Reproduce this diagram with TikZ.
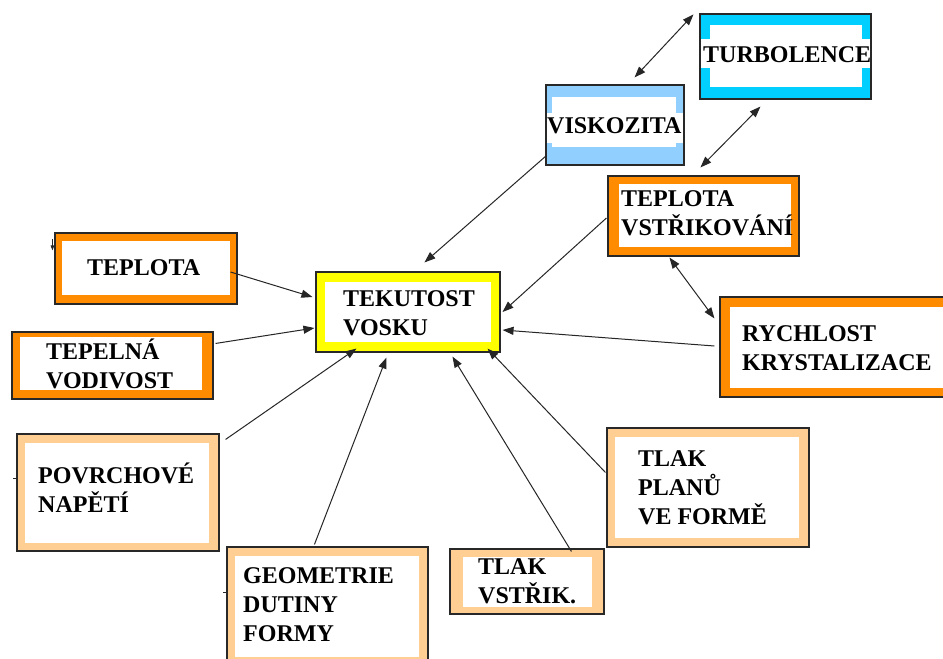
\documentclass[tikz,border=0pt]{standalone}
\usepackage{fontspec}
\setmainfont{Liberation Serif}
\usetikzlibrary{arrows.meta,calc}
\definecolor{cOrange}{RGB}{255,140,0}
\definecolor{cLight}{RGB}{255,206,146}
\definecolor{cBlue}{RGB}{145,207,255}
\definecolor{cCyan}{RGB}{0,207,255}
\definecolor{cYellow}{RGB}{255,255,0}
\definecolor{cEdge}{RGB}{40,40,40}
\begin{document}
\begin{tikzpicture}[x=1pt,y=-1pt,
  box/.style={draw=cEdge, line width=1.1pt, rectangle, inner sep=0pt},
  lbl/.style={font=\fontsize{24}{29}\selectfont\bfseries, anchor=base west, inner sep=0pt, align=left},
  con/.style={draw=black!85, line width=1pt, -{Triangle[length=11pt,width=8pt]}},
  dcon/.style={draw=black!85, line width=1pt, {Triangle[length=11pt,width=8pt]}-{Triangle[length=11pt,width=8pt]}},
  tick/.style={draw=black!85, line width=1pt}
]
\useasboundingbox (0,0) rectangle (943,659);
\fill[white] (0,0) rectangle (943,659);

% TURBOLENCE
\node[box, fill=cCyan, minimum width=171pt, minimum height=85pt] (turb) at (785.5,56.5) {};
\fill[white] (710,25) rectangle (862,87);
\fill[white] (701,39) rectangle (870,68);
\node[lbl] (turbt) at (703,62) {TURBOLENCE};

% VISKOZITA
\node[box, fill=cBlue, minimum width=138pt, minimum height=80pt] (visk) at (615,125) {};
\fill[white] (552,97) rectangle (676,147);
\fill[white] (547,113) rectangle (683,143);
\node[lbl] (viskt) at (547,133) {VISKOZITA};

% TEPLOTA VSTRIKOVANI
\node[box, fill=cOrange, minimum width=191pt, minimum height=80pt] (tvst) at (703.5,216) {};
\fill[white] (619,184) rectangle (791,247);
\node[lbl] (tvstt) at (621,235) {TEPLOTA\\VSTŘIKOVÁNÍ};

% TEKUTOST VOSKU
\node[box, fill=cYellow, minimum width=184pt, minimum height=80pt] (tek) at (408,312) {};
\fill[white] (325,282) rectangle (491,342);
\node[lbl] (tekt) at (343,335) {TEKUTOST\\VOSKU};

% TEPLOTA
\node[box, fill=cOrange, minimum width=182pt, minimum height=71pt] (tepl) at (146,268.5) {};
\fill[white] (62,241) rectangle (230,295);
\node[lbl] (teplt) at (87,275) {TEPLOTA};

% TEPELNA VODIVOST
\node[box, fill=cOrange, minimum width=201pt, minimum height=67pt] (tepel) at (112.5,365.5) {};
\fill[white] (20,337) rectangle (202,390);
\node[lbl] (tepelt) at (46,388) {TEPELNÁ\\VODIVOST};

% RYCHLOST KRYSTALIZACE
\node[box, fill=cOrange, minimum width=230pt, minimum height=100pt] (rych) at (835,347) {};
\fill[white] (730,307) rectangle (950,388);
\node[lbl] (rycht) at (742,370) {RYCHLOST\\KRYSTALIZACE};

% TLAK PLANU VE FORME
\node[box, fill=cLight, minimum width=202pt, minimum height=119pt] (tlakpl) at (708,487.5) {};
\fill[white] (615,437) rectangle (799,538);
\node[lbl] (tlakplt) at (638,524) {TLAK\\PLANŮ\\VE FORMĚ};

% POVRCHOVE NAPETI
\node[box, fill=cLight, minimum width=202pt, minimum height=117pt] (povr) at (118,492.5) {};
\fill[white] (25,443) rectangle (209,543);
\node[lbl] (povrt) at (38,512) {POVRCHOVÉ\\NAPĚTÍ};

% GEOMETRIE DUTINY FORMY
\node[box, fill=cLight, minimum width=201pt, minimum height=119pt] (geom) at (327.5,606.5) {};
\fill[white] (235,556) rectangle (419,657);
\node[lbl] (geomt) at (243,641) {GEOMETRIE\\DUTINY\\FORMY};

% TLAK VSTRIK.
\node[box, fill=cLight, minimum width=154pt, minimum height=65pt] (tlakv) at (527,581.5) {};
\fill[white] (463,557) rectangle (592,607);
\node[lbl] (tlakvt) at (478,603) {TLAK\\VSTŘIK.};

% connectors
\draw[dcon] ($(turb.north west)+(-6,1)$) -- ($(visk.north east)+(-50,-7)$);
\draw[dcon] ($(turb.south west)+(61,7)$) -- ($(tvst.north west)+(93,-8)$);
\draw[con] ($(visk.south west)+(1,-10)$) -- ($(tek.north west)+(109,-9)$);
\draw[con] ($(tvst.west)+(-1,2)$) -- ($(tek.east)+(2,0)$);
\draw[dcon] ($(tvst.south west)+(62,1)$) -- ($(rych.north west)+(-5,22)$);
\draw[con] ($(rych.west)+(-5,-1)$) -- ($(tek.east)+(2,18)$);
\draw[con] ($(tepl.east)+(-7,3.5)$) -- ($(tek.west)+(-3,-15)$);
\draw[con] ($(tepel.north east)+(2,12)$) -- ($(tek.west)+(-1,16)$);
\draw[con] ($(povr.north east)+(6,6)$) -- ($(tek.south west)+(41,-4)$);
\draw[con] ($(geom.north west)+(88,-2)$) -- ($(tek.south west)+(71,5)$);
\draw[con] ($(tlakv.north west)+(122,3)$) -- ($(tek.south west)+(137,4)$);
\draw[con] ($(tlakpl.north west)+(-1,45)$) -- ($(tek.south east)+(-13,-4)$);

% small marks at the left of some boxes
\draw[tick, -{Triangle[length=5pt,width=3.5pt]}] ($(tepl.north west)+(-2,7)$) -- ($(tepl.north west)+(-2,18)$);
\draw[tick] ($(povr.west)+(-3,-14.5)$) -- ($(povr.west)+(0,-14.5)$);
\draw[tick] ($(geom.west)+(-3,-14.5)$) -- ($(geom.west)+(0,-14.5)$);
\end{tikzpicture}
\end{document}
